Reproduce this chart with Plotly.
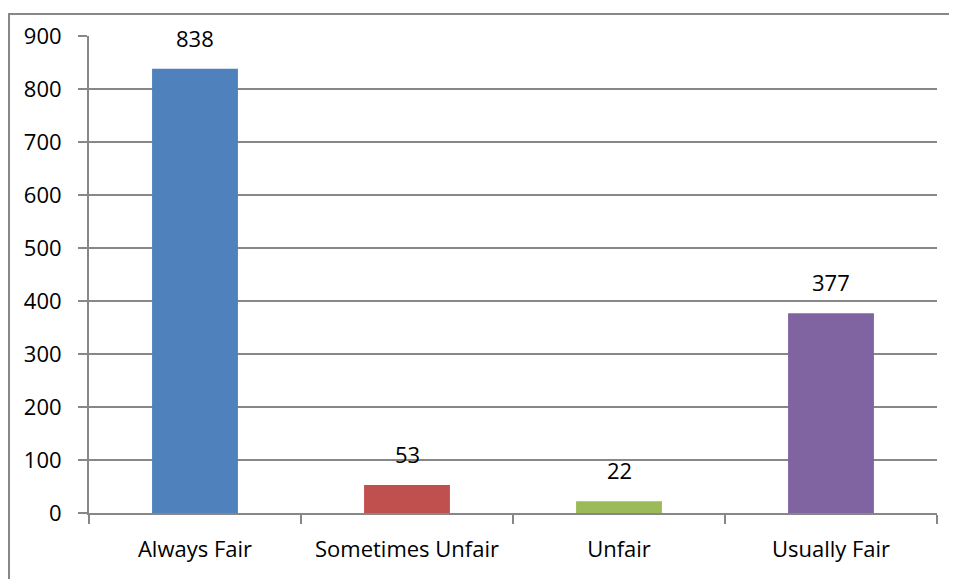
import plotly.graph_objects as go

categories = ["Always Fair", "Sometimes Unfair", "Unfair", "Usually Fair"]
values = [838, 53, 22, 377]
bar_colors = ["#4F81BD", "#C0504D", "#9BBB59", "#8064A2"]
y_ticks = [0, 100, 200, 300, 400, 500, 600, 700, 800, 900]

FONT = "Open Sans, Calibri, sans-serif"
FS = 22
GRID = "#878787"

# plot area in window pixels: x 89..937, y 34..513 ; page body has 8px margin
W, H = 949, 571
L, R, T, B = 81, 20, 26, 66
PW, PH = W - L - R, H - T - B

fig = go.Figure()
fig.add_trace(go.Bar(
    x=categories, y=values,
    marker=dict(color=bar_colors, line=dict(width=0)),
    width=0.405,
    hoverinfo="x+y",
))

for c, v in zip(categories, values):
    fig.add_annotation(x=c, y=v, text=str(v), showarrow=False,
                       yanchor="middle", yshift=31,
                       font=dict(family=FONT, size=FS, color="#000000"))

fig.update_layout(
    width=W, height=H,
    margin=dict(l=L, r=R, t=T, b=B),
    paper_bgcolor="white", plot_bgcolor="white",
    showlegend=False,
    font=dict(family=FONT, size=FS, color="#000000"),
    bargap=0.595,
)
fig.update_xaxes(
    showgrid=False, showline=True, linecolor=GRID, linewidth=2,
    ticks="outside", tickson="boundaries", ticklen=9, tickwidth=2, tickcolor=GRID,
    ticklabelstandoff=16,
    tickfont=dict(family=FONT, size=FS, color="#000000"),
)
fig.update_yaxes(
    range=[0, 900], tickvals=y_ticks,
    showgrid=True, gridcolor=GRID, gridwidth=2,
    showline=True, linecolor=GRID, linewidth=2,
    ticks="outside", ticklen=9, tickwidth=2, tickcolor=GRID,
    zeroline=False, ticklabelstandoff=12,
    tickfont=dict(family=FONT, size=FS, color="#000000"),
)
# outer chart frame (left and top edges visible)
fig.update_layout(shapes=[dict(type="rect", xref="paper", yref="paper",
                               x0=-(L - 1) / PW, x1=1 + 60 / PW,
                               y0=-(B + 40) / PH, y1=1 + (T - 4) / PH,
                               line=dict(color=GRID, width=2), fillcolor="rgba(0,0,0,0)",
                               layer="below")])

fig.write_html("out.html")
